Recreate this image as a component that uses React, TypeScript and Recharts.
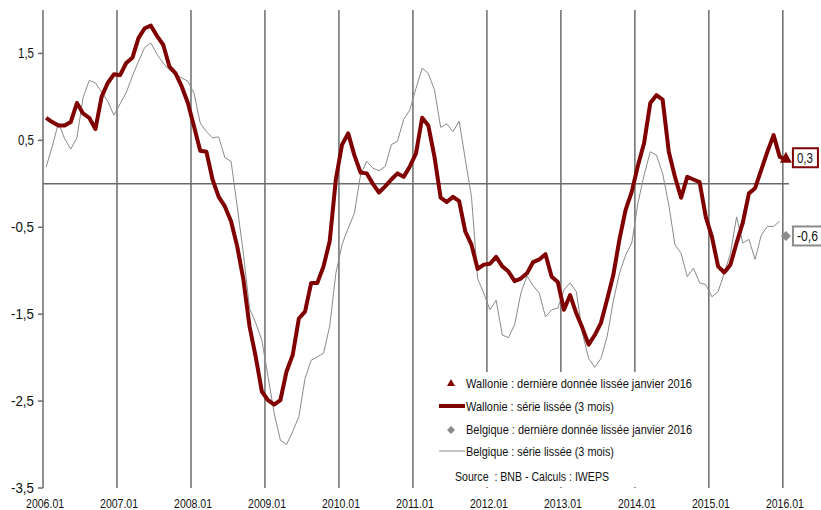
import { LineChart, Line, XAxis, YAxis, ReferenceLine } from 'recharts';

const FONT = '"Liberation Sans", Arial, sans-serif';
const RED = '#800000';
const GREY = '#8a8a8a';
const GRID = '#6b6b6b';

// one tick per January, 2006.01 .. 2016.01
const tickLabels = [
  '2006.01', '2007.01', '2008.01', '2009.01', '2010.01', '2011.01',
  '2012.01', '2013.01', '2014.01', '2015.01', '2016.01',
];

// Wallonie, série lissée (3 mois), monthly 2006.01 -> 2016.01
const wallonie = [
  0.76, 0.71, 0.67, 0.67, 0.71, 0.93, 0.81, 0.76, 0.63, 1.0, 1.16, 1.26,
  1.25, 1.39, 1.45, 1.68, 1.79, 1.82, 1.7, 1.6, 1.35, 1.27, 1.12, 0.93,
  0.66, 0.38, 0.37, 0.05, -0.15, -0.26, -0.43, -0.72, -1.1, -1.64, -1.99, -2.39,
  -2.49, -2.54, -2.49, -2.16, -1.97, -1.55, -1.47, -1.14, -1.14, -0.95, -0.66, 0.05,
  0.45, 0.58, 0.33, 0.13, 0.12, 0.0, -0.1, -0.03, 0.05, 0.12, 0.08, 0.2,
  0.35, 0.76, 0.67, 0.31, -0.16, -0.21, -0.15, -0.2, -0.55, -0.7, -0.98, -0.93,
  -0.92, -0.84, -0.95, -1.01, -1.12, -1.09, -1.03, -0.9, -0.87, -0.81, -1.07, -1.13,
  -1.45, -1.28, -1.49, -1.66, -1.85, -1.74, -1.6, -1.33, -1.05, -0.64, -0.3, -0.09,
  0.21, 0.47, 0.93, 1.02, 0.97, 0.37, 0.08, -0.16, 0.08, 0.05, 0.02, -0.38,
  -0.61, -0.95, -1.02, -0.93, -0.68, -0.45, -0.11, -0.05, 0.16, 0.37, 0.56, 0.31,
  0.28,
];

// Belgique, série lissée (3 mois), monthly 2006.01 -> 2015.12
const belgique = [
  0.19, 0.43, 0.7, 0.52, 0.4, 0.53, 0.99, 1.19, 1.16, 1.06, 0.95, 0.79,
  0.92, 1.05, 1.24, 1.41, 1.57, 1.62, 1.49, 1.39, 1.31, 1.26, 1.22, 1.18,
  1.04, 0.7, 0.6, 0.53, 0.54, 0.3, 0.26, -0.26, -0.8, -1.43, -1.6, -1.8,
  -2.22, -2.64, -2.95, -3.0, -2.85, -2.68, -2.24, -2.03, -1.99, -1.95, -1.64, -1.03,
  -0.7, -0.51, -0.34, 0.1, 0.26, 0.18, 0.15, 0.2, 0.45, 0.49, 0.74, 0.85,
  1.1, 1.33, 1.27, 1.08, 0.65, 0.69, 0.6, 0.72, 0.28, -0.15, -1.09, -1.26,
  -1.45, -1.34, -1.74, -1.77, -1.62, -1.26, -1.06, -1.17, -1.26, -1.53, -1.45, -1.43,
  -1.22, -1.14, -1.24, -1.72, -2.01, -2.11, -2.01, -1.76, -1.35, -1.03, -0.82, -0.68,
  -0.22, 0.1, 0.37, 0.33, 0.12, -0.24, -0.7, -0.8, -1.07, -0.97, -1.14, -1.16,
  -1.3, -1.24, -1.03, -0.8, -0.38, -0.68, -0.64, -0.87, -0.59, -0.49, -0.49, -0.43,
];

// dernière donnée lissée janvier 2016
const wallonieLast = 0.3;
const belgiqueLast = -0.6;

const yTicks = [-3.5, -2.5, -1.5, -0.5, 0.5, 1.5];

const lastIdx = wallonie.length - 1;
const data = wallonie.map((w, i) => ({
  idx: i,
  wallonie: w,
  belgique: i < belgique.length ? belgique[i] : null,
  wLast: i === lastIdx ? wallonieLast : null,
  bLast: i === lastIdx ? belgiqueLast : null,
}));

const tickIdx = tickLabels.map((_, i) => i * 12);
const yearLines = tickIdx.slice(1).map((i) => i - 0.5);

const fmt = (v: number) => String(v).replace('.', ',');

// condensed look: the source font is a narrow grotesque
const XTick = (props: any) => {
  const { x, payload } = props;
  return (
    <text x={x - 1} y={508} textAnchor="middle" fontSize={13} fontFamily={FONT} fill="#111"
      textLength={38} lengthAdjust="spacingAndGlyphs">
      {tickLabels[payload.value / 12]}
    </text>
  );
};

const YTick = (props: any) => {
  const { x, y, payload } = props;
  const s = fmt(payload.value);
  return (
    <text x={x} y={y + 5} textAnchor="end" fontSize={14} fontFamily={FONT} fill="#111"
      textLength={s.startsWith('-') ? 23 : 16} lengthAdjust="spacingAndGlyphs">
      {s}
    </text>
  );
};

const LastDot = (props: any) => {
  const { cx, cy, value, kind } = props;
  if (value == null || cx == null || cy == null) return <g key={props.key} />;
  const isW = kind === 'w';
  const color = isW ? RED : GREY;
  const bx = cx + 7;
  const bw = isW ? 25 : 30;
  const s = fmt(value);
  return (
    <g key={props.key}>
      {isW ? (
        <path d={`M${cx},${cy - 6} L${cx + 6},${cy + 5} L${cx - 6},${cy + 5} Z`} fill={RED} />
      ) : (
        <path d={`M${cx},${cy - 5} L${cx + 5},${cy} L${cx},${cy + 5} L${cx - 5},${cy} Z`} fill={GREY} />
      )}
      <rect x={bx} y={cy - 9.5} width={bw} height={19} fill="#fff" stroke={color} strokeWidth={2} />
      <text x={bx + 4} y={cy + 5} fontSize={14} fontFamily={FONT} fill="#111"
        textLength={isW ? 16 : 21} lengthAdjust="spacingAndGlyphs">
        {s}
      </text>
    </g>
  );
};

const Legend = () => (
  <svg
    width={330}
    height={115}
    style={{ position: 'absolute', left: 430, top: 372, overflow: 'visible' }}
    fontFamily={FONT}
    fontSize={13}
  >
    <rect x={0} y={0} width={272} height={115} fill="#fff" />
    <path d="M21,7 L25,14 L17,14 Z" fill={RED} />
    <text x={36} y={15.5} fill="#111" textLength={226} lengthAdjust="spacingAndGlyphs">
      Wallonie : dernière donnée lissée janvier 2016
    </text>
    <line x1={9} x2={35} y1={34} y2={34} stroke={RED} strokeWidth={4} />
    <text x={36} y={38.5} fill="#111" textLength={148} lengthAdjust="spacingAndGlyphs">
      Wallonie : série lissée (3 mois)
    </text>
    <path d="M21,54 L25,58 L21,62 L17,58 Z" fill={GREY} />
    <text x={36} y={62} fill="#111" textLength={226} lengthAdjust="spacingAndGlyphs">
      Belgique : dernière donnée lissée janvier 2016
    </text>
    <line x1={9} x2={35} y1={79} y2={79} stroke={GREY} strokeWidth={1} />
    <text x={36} y={83.5} fill="#111" textLength={148} lengthAdjust="spacingAndGlyphs">
      Belgique : série lissée (3 mois)
    </text>
    <text x={25} y={108.5} fill="#111" style={{ whiteSpace: 'pre' }} textLength={154}
      lengthAdjust="spacingAndGlyphs">
      Source  : BNB - Calculs : IWEPS
    </text>
  </svg>
);

export default function App() {
  return (
    <div style={{ position: 'relative', width: 821, height: 510, fontFamily: FONT }}>
      <style>{'body{margin:0}'}</style>
      <LineChart width={821} height={510} data={data} margin={{ top: 10, right: 32, bottom: 0, left: 0 }}>
        <XAxis
          dataKey="idx"
          type="number"
          domain={[-0.5, 120.5]}
          ticks={tickIdx}
          axisLine={false}
          tickLine={false}
          tickSize={0}
          tickMargin={10}
          height={22}
          tick={<XTick />}
        />
        <YAxis
          domain={[-3.5, 2]}
          ticks={yTicks}
          width={43}
          tickSize={5}
          tickMargin={4}
          axisLine={{ stroke: GRID, strokeWidth: 1.5 }}
          tickLine={{ stroke: GRID, strokeWidth: 1.5 }}
          tick={<YTick />}
        />
        {yearLines.map((x) => (
          <ReferenceLine key={x} x={x} stroke={GRID} strokeWidth={1.5} />
        ))}
        <ReferenceLine y={0} stroke={GRID} strokeWidth={1.5} />
        <Line
          dataKey="belgique"
          stroke={GREY}
          strokeWidth={1}
          dot={false}
          isAnimationActive={false}
        />
        <Line
          dataKey="wallonie"
          stroke={RED}
          strokeWidth={4}
          strokeLinejoin="round"
          dot={false}
          isAnimationActive={false}
        />
        <Line
          dataKey="bLast"
          stroke="none"
          dot={(p: any) => <LastDot {...p} kind="b" />}
          activeDot={false}
          isAnimationActive={false}
        />
        <Line
          dataKey="wLast"
          stroke="none"
          dot={(p: any) => <LastDot {...p} kind="w" />}
          activeDot={false}
          isAnimationActive={false}
        />
      </LineChart>
      <Legend />
    </div>
  );
}
